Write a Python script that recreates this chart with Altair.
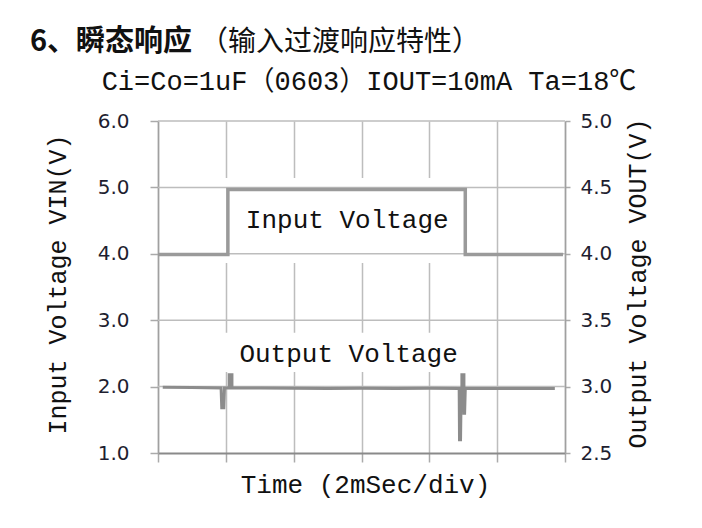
import altair as alt
import pandas as pd

# ---- data (x in divisions of 2 ms) ----
time_in = [0.0, 1.03, 1.03, 4.53, 4.53, 5.97]
vin = [3.99, 3.99, 4.97, 4.97, 3.99, 3.99]

time_out = [0.07, 0.5, 0.93, 0.94, 0.97, 0.98, 1.05, 1.05, 1.09, 1.09, 1.5, 2.0, 2.5,
            3.0, 3.5, 4.0, 4.44, 4.445, 4.46, 4.47, 4.48, 4.48, 4.51, 4.51, 4.52,
            4.53, 5.0, 5.5, 5.85]
vout = [2.995, 2.993, 2.99, 2.84, 2.84, 2.99, 2.99, 3.09, 3.09, 2.99, 2.99, 2.988, 2.985,
        2.987, 2.985, 2.987, 2.985, 2.60, 2.60, 2.985, 2.985, 3.09, 3.09, 2.80, 2.80,
        2.985, 2.986, 2.985, 2.985]

x_ticks = [0, 1, 2, 3, 4, 5, 6]
vin_ticks = [1, 2, 3, 4, 5, 6]
vout_ticks = [2.5, 3.0, 3.5, 4.0, 4.5, 5.0]
h_grid = [2, 3, 4, 5, 6]

# label boxes (white backgrounds behind the two annotations), in data units
box_x1 = [0.97, 0.97]
box_x2 = [4.48, 4.52]
box_y1 = [5.14, 2.81]
box_y2 = [3.86, 2.22]

notes = ["Input Voltage", "Output Voltage"]
note_x = [2.79, 2.81]
note_y = [4.39, 2.37]

title_main = "6、瞬态响应"
title_sub = "（输入过渡响应特性）"
subtitle = "Ci=Co=1uF（0603）IOUT=10mA Ta=18℃"

MONO = "Liberation Mono, Noto Sans CJK SC"
GRID = "#bdbdbd"

df_in = pd.DataFrame({"t": time_in, "v": vin, "k": list(range(len(time_in)))})
df_out = pd.DataFrame({"t": time_out, "v": vout, "k": list(range(len(time_out)))})
df_grid = pd.DataFrame({"g": h_grid})
df_box = pd.DataFrame({"x1": box_x1, "x2": box_x2, "y1": box_y1, "y2": box_y2})
df_notes = pd.DataFrame({"label": notes, "x": note_x, "y": note_y})
one = pd.DataFrame({"a": [0]})

xscale = alt.Scale(domain=[0, 6], nice=False, zero=False)
lscale = alt.Scale(domain=[1, 6], nice=False, zero=False)
rscale = alt.Scale(domain=[2.5, 5.0], nice=False, zero=False)

x_axis = alt.Axis(values=x_ticks, labels=False, grid=True, gridColor=GRID, gridWidth=1.5,
                  tickSize=9, tickColor="#aaaaaa", tickWidth=1.5,
                  domainColor="#8a8a8a", domainWidth=2,
                  title="Time (2mSec/div)", titleFont=MONO, titleFontSize=26,
                  titleFontWeight="normal", titleColor="#111111",
                  titleX=207, titleY=39, titleBaseline="alphabetic", titleAlign="center")

left_axis = alt.Axis(values=vin_ticks, format=".1f", grid=False, orient="left",
                     tickSize=8, tickColor="#aaaaaa", tickWidth=1.5,
                     domainColor="#a0a0a0", domainWidth=1.5,
                     labelFont="DejaVu Sans", labelFontSize=20, labelColor="#1e1e30",
                     labelPadding=21,
                     title="Input Voltage VIN(V)", titleFont=MONO, titleFontSize=25,
                     titleFontWeight="normal", titleColor="#111111", titleAngle=270,
                     titleX=-93, titleY=163, titleBaseline="alphabetic", titleAlign="center")

right_axis = alt.Axis(values=vout_ticks, format=".1f", grid=False, orient="right",
                      tickSize=5, tickColor="#aaaaaa", tickWidth=1.5,
                      domainColor="#a0a0a0", domainWidth=1.5,
                      labelFont="DejaVu Sans", labelFontSize=20, labelColor="#1e1e30",
                      labelPadding=10,
                      title="Output Voltage VOUT(V)", titleFont=MONO, titleFontSize=25,
                      titleFontWeight="normal", titleColor="#111111", titleAngle=270,
                      titleX=80, titleY=162, titleBaseline="alphabetic", titleAlign="center")

X_T = "Time (2mSec/div)"
Y_L = "Input Voltage VIN(V)"

boxes = alt.Chart(df_box).mark_rect(color="white").encode(
    x=alt.X("x1:Q", scale=xscale, axis=x_axis, title=X_T),
    x2="x2:Q",
    y=alt.Y("y1:Q", scale=lscale, axis=left_axis, title=Y_L),
    y2="y2:Q",
)

hgrid = alt.Chart(df_grid).mark_rule(color=GRID, strokeWidth=1.5).encode(
    y=alt.Y("g:Q", scale=lscale, axis=left_axis, title=Y_L),
)

line_in = alt.Chart(df_in).mark_line(color="#9a9a9a", strokeWidth=3.5).encode(
    x=alt.X("t:Q", scale=xscale, axis=x_axis, title=X_T),
    y=alt.Y("v:Q", scale=lscale, axis=left_axis, title=Y_L),
    order="k:Q",
)

note_text = alt.Chart(df_notes).mark_text(font=MONO, fontSize=26, color="#111111",
                                          align="center", baseline="alphabetic").encode(
    x=alt.X("x:Q", scale=xscale, axis=x_axis, title=X_T),
    y=alt.Y("y:Q", scale=lscale, axis=left_axis, title=Y_L),
    text="label:N",
)

line_out = alt.Chart(df_out).mark_line(color="#8c8c8c", strokeWidth=3).encode(
    x=alt.X("t:Q", scale=xscale, axis=x_axis, title=X_T),
    y=alt.Y("v:Q", scale=rscale, axis=right_axis, title="Output Voltage VOUT(V)"),
    order="k:Q",
)

t1 = alt.Chart(one).mark_text(font="Noto Sans CJK SC", fontWeight="bold", fontSize=29,
                              color="#111111", align="left", baseline="alphabetic").encode(
    x=alt.value(-128), y=alt.value(-70), text=alt.value(title_main))
t2 = alt.Chart(one).mark_text(font="Noto Sans CJK SC", fontSize=28,
                              color="#111111", align="left", baseline="alphabetic").encode(
    x=alt.value(42), y=alt.value(-70), text=alt.value(title_sub))
t3 = alt.Chart(one).mark_text(font=MONO, fontSize=27,
                              color="#111111", align="center", baseline="alphabetic").encode(
    x=alt.value(211), y=alt.value(-31), text=alt.value(subtitle))

left_group = alt.layer(boxes, hgrid, line_in, note_text)

chart = alt.layer(left_group, line_out, t1, t2, t3).resolve_scale(y="independent").properties(
    width=407, height=332,
    padding={"left": 150, "top": 113, "right": 120, "bottom": 60},
    autosize=alt.AutoSizeParams(type="none"),
    background="white",
).configure_view(strokeWidth=0)

chart.save("out.html", embed_options={"renderer": "svg", "actions": False})
